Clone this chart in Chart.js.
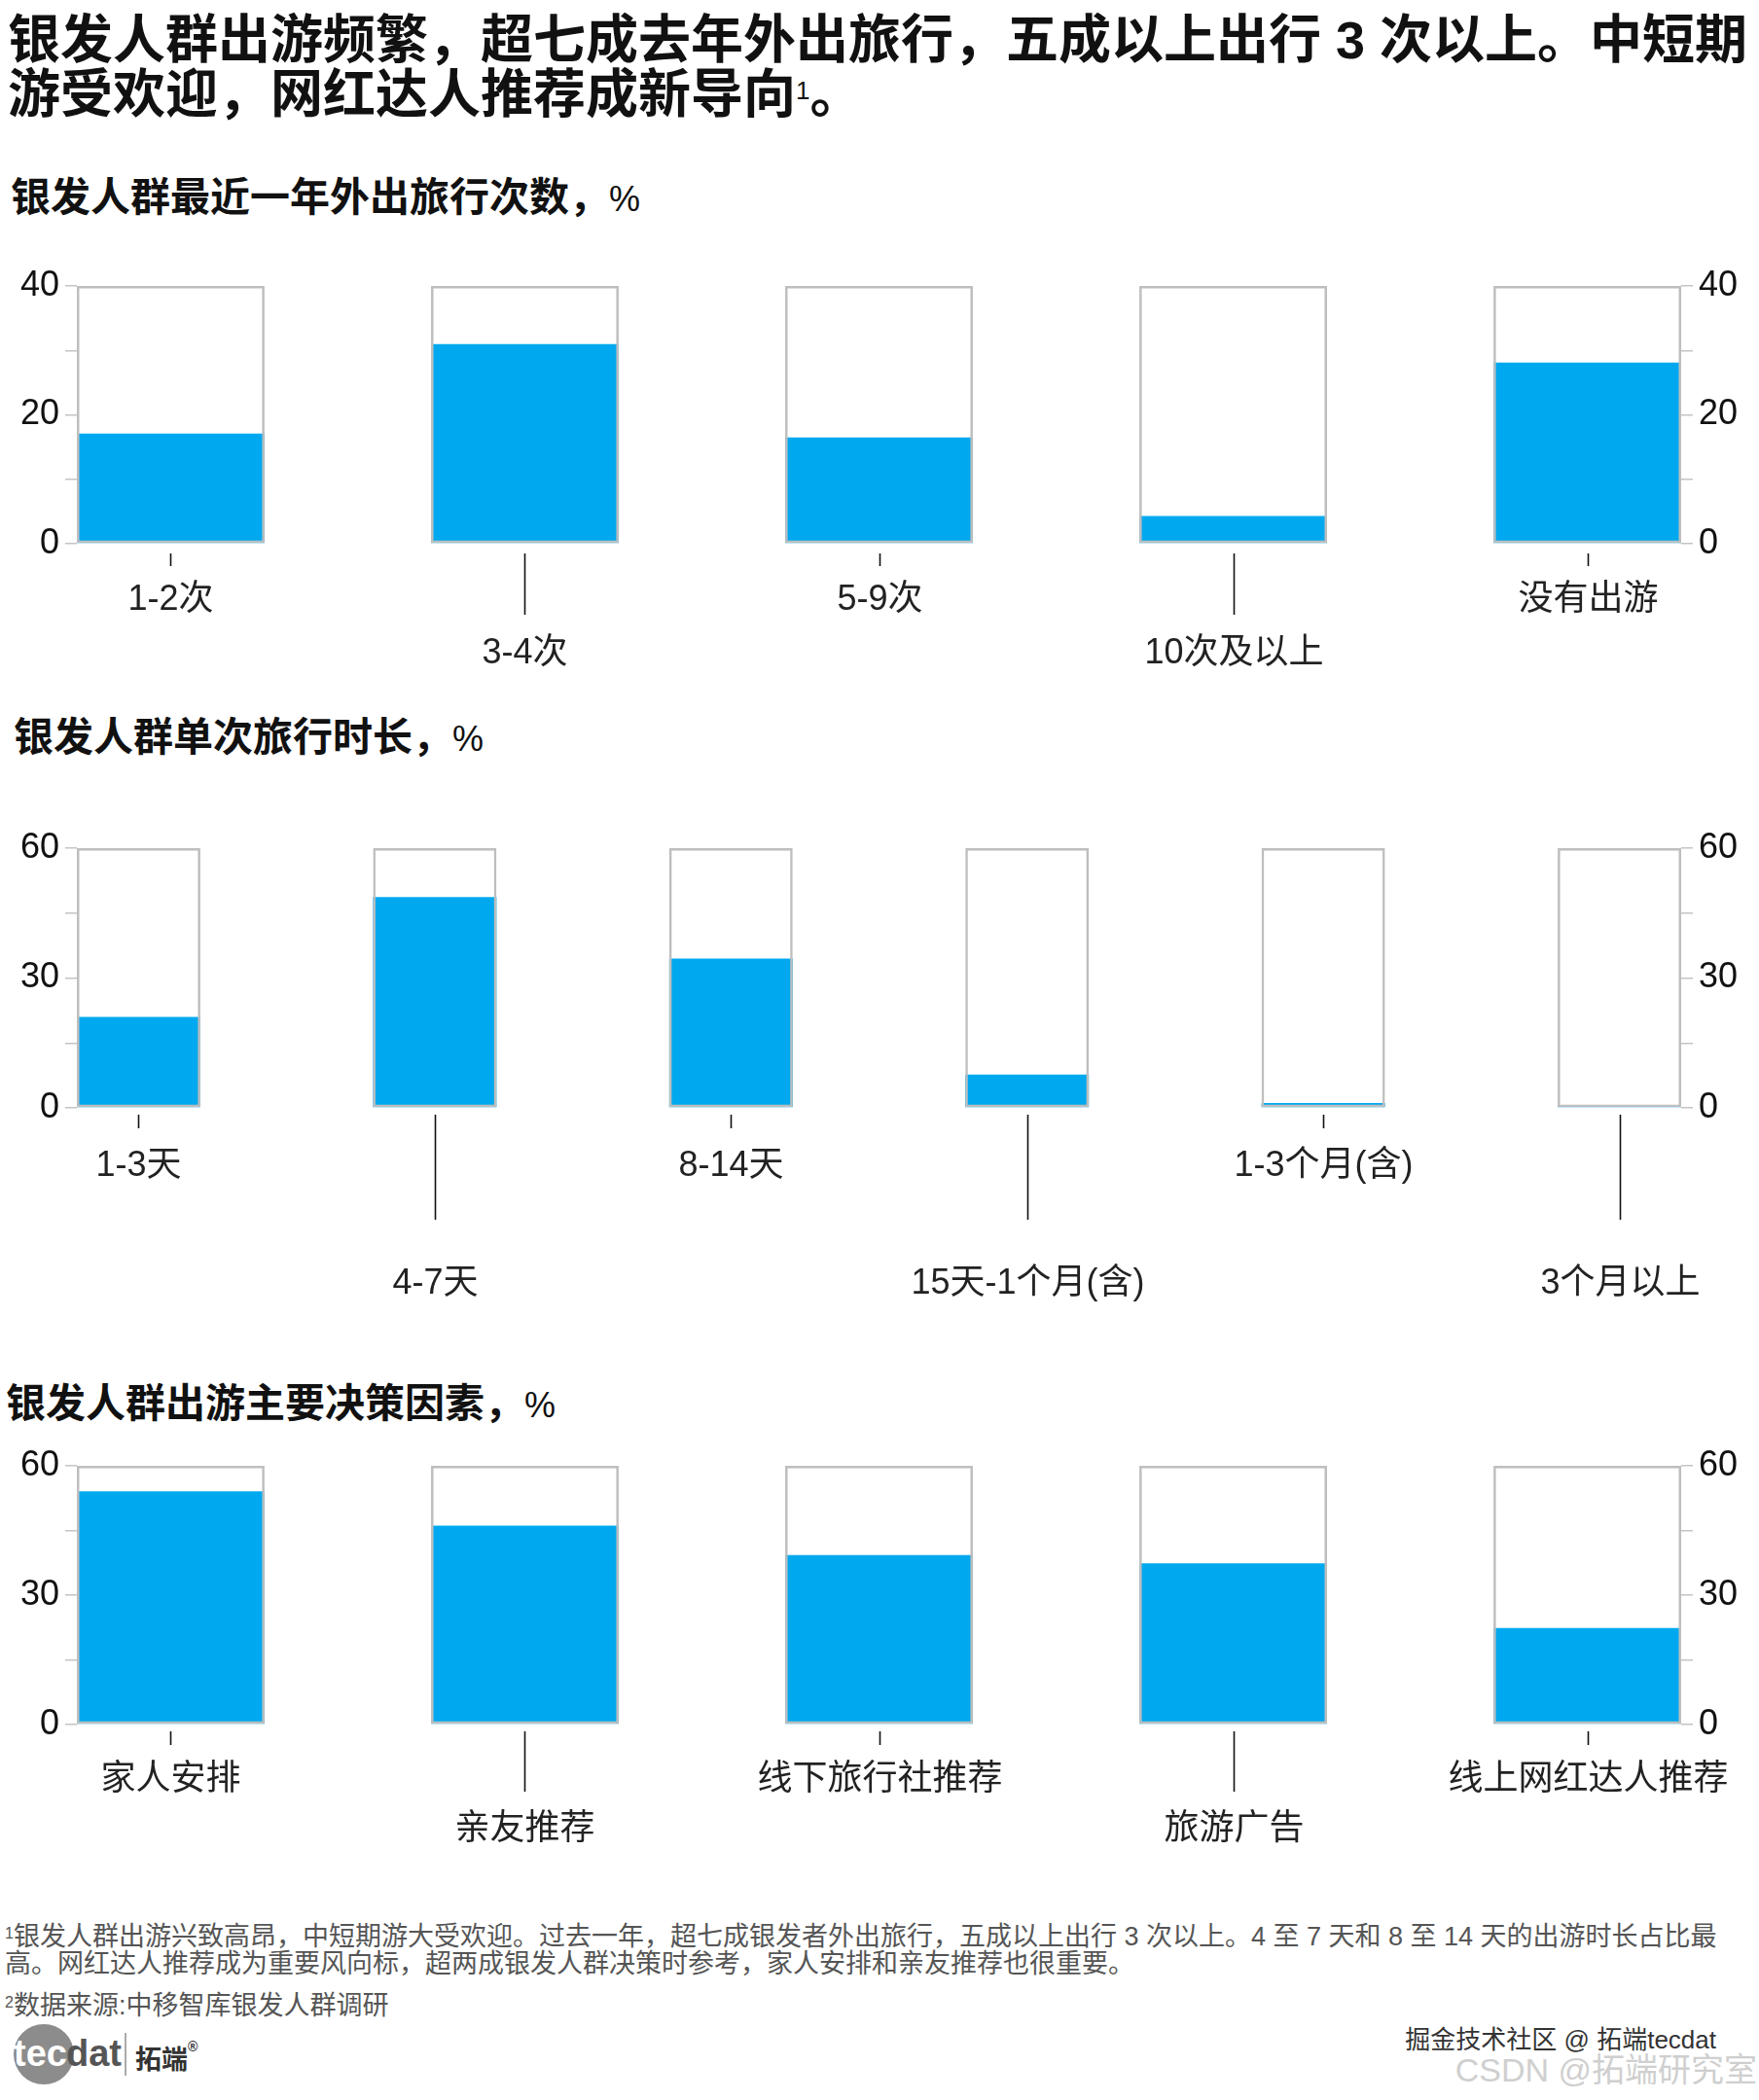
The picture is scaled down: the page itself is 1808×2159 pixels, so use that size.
<!DOCTYPE html>
<html lang="zh-CN">
<head>
<meta charset="utf-8">
<title>银发人群出游</title>
<script src="https://cdn.jsdelivr.net/npm/chart.js@4.4.1/dist/chart.umd.min.js"></script>
<style>
  html,body{margin:0;padding:0;background:#fff;}
  body{width:1808px;height:2159px;position:relative;overflow:hidden;
       font-family:"Liberation Sans",Arial,"Noto Sans CJK SC",sans-serif;color:#111;}
  .title{position:absolute;left:8px;top:13px;font-size:54px;font-weight:700;line-height:56px;white-space:nowrap;}
  .title sup{font-size:26px;font-weight:400;vertical-align:top;position:relative;top:-4px;}
  .sub{position:absolute;font-size:41px;font-weight:700;line-height:48px;white-space:nowrap;}
  .sub span{font-size:36px;font-weight:400;}
  .panel{position:absolute;left:0;width:1808px;}
  .note{position:absolute;left:5px;font-size:27px;color:#555;line-height:28px;white-space:nowrap;}
  .note sup{font-size:16px;vertical-align:top;position:relative;top:-3px;}
  .logo{position:absolute;left:6px;top:2080px;height:64px;width:220px;}
  .logo .dot{position:absolute;left:8px;top:1px;width:62px;height:62px;border-radius:50%;background:#8c8c8c;}
  .logo .t1{position:absolute;left:8px;top:10px;font-size:38px;color:#fff;font-weight:700;}
  .logo .t2{position:absolute;left:62px;top:10px;font-size:38px;color:#555;font-weight:700;}
  .logo .bar{position:absolute;left:122px;top:10px;width:2px;height:44px;background:#aaa;}
  .logo .t3{position:absolute;left:133px;top:16px;font-size:27px;color:#333;font-weight:700;}
  .logo .t3 sup{font-size:14px;vertical-align:top;}
  .wm1{position:absolute;right:44px;top:2076px;font-size:26px;color:#333;white-space:nowrap;
       text-shadow:0 0 2px #fff,0 0 2px #fff;}
  .wm2{position:absolute;right:2px;top:2101px;font-size:34px;color:#cfcfcf;white-space:nowrap;}
</style>
</head>
<body>
<div class="title">银发人群出游频繁，超七成去年外出旅行，五成以上出行 3 次以上。中短期<br>游受欢迎，网红达人推荐成新导向<sup>1</sup>。</div>

<div class="sub" style="left:11px;top:179px;">银发人群最近一年外出旅行次数，<span>%</span></div>
<div class="panel" style="top:264px;height:445px;"><canvas id="chartTrips"></canvas></div>

<div class="sub" style="left:14px;top:734px;">银发人群单次旅行时长，<span>%</span></div>
<div class="panel" style="top:842px;height:517px;"><canvas id="chartDuration"></canvas></div>

<div class="sub" style="left:6px;top:1419px;">银发人群出游主要决策因素，<span>%</span></div>
<div class="panel" style="top:1477px;height:446px;"><canvas id="chartFactors"></canvas></div>

<div class="note" style="top:1977px;"><sup>1</sup>银发人群出游兴致高昂，中短期游大受欢迎。过去一年，超七成银发者外出旅行，五成以上出行 3 次以上。4 至 7 天和 8 至 14 天的出游时长占比最<br>高。网红达人推荐成为重要风向标，超两成银发人群决策时参考，家人安排和亲友推荐也很重要。</div>
<div class="note" style="top:2048px;"><sup>2</sup>数据来源:中移智库银发人群调研</div>

<div class="logo">
  <div class="dot"></div><div class="t1">tec</div><div class="t2">dat</div>
  <div class="bar"></div><div class="t3">拓端<sup>®</sup></div>
</div>
<div class="wm1">掘金技术社区 @ 拓端tecdat</div>
<div class="wm2">CSDN @拓端研究室</div>

<script>
// 数据
const tripCats   = ['1-2次', '3-4次', '5-9次', '10次及以上', '没有出游'];
const tripVals   = [17.1, 31.0, 16.5, 4.3, 28.1];
const tripTicks  = [0, 20, 40];

const durCats    = ['1-3天', '4-7天', '8-14天', '15天-1个月(含)', '1-3个月(含)', '3个月以上'];
const durVals    = [21.0, 48.7, 34.5, 7.7, 1.1, 0.7];
const durTicks   = [0, 30, 60];

const factorCats  = ['家人安排', '亲友推荐', '线下旅行社推荐', '旅游广告', '线上网红达人推荐'];
const factorVals  = [54.1, 46.1, 39.3, 37.4, 22.4];
const factorTicks = [0, 30, 60];

const BLUE  = '#00A9EF';
const FRAME = '#BEBEBE';
const FONT  = "'Liberation Sans', Arial, 'Noto Sans CJK SC', sans-serif";
const LEFT_W = 79, RIGHT_W = 80;

// 错位的分类标签 + 引线
const staggerLabels = {
  id: 'staggerLabels',
  afterDraw(chart, args, o){
    const {ctx, chartArea} = chart;
    const xs = chart.scales.x;
    ctx.save();
    ctx.strokeStyle = '#111'; ctx.lineWidth = 1.6;
    ctx.fillStyle = '#222';
    ctx.font = `36px ${FONT}`;
    ctx.textAlign = 'center'; ctx.textBaseline = 'middle';
    o.labels.forEach((c, i) => {
      const x = Math.round(xs.getPixelForValue(i)) + 0.5;
      const low = i % 2 === 1;
      ctx.beginPath();
      ctx.moveTo(x, chartArea.bottom + o.gap);
      ctx.lineTo(x, chartArea.bottom + (low ? o.longEnd : o.shortEnd));
      ctx.stroke();
      ctx.fillText(c, x, chartArea.bottom + (low ? o.lowText : o.highText));
    });
    ctx.restore();
  }
};

function drawPanel(id, cats, vals, ticks, barFrac, stagger){
  const max  = ticks[ticks.length - 1];
  const step = (ticks[1] - ticks[0]) / 2;
  const yAxis = pos => ({
    position: pos, min: 0, max,
    border: {display: false},
    grid: {drawOnChartArea: false, drawTicks: true, tickLength: 12, color: '#c4c4c4', lineWidth: 1.5},
    ticks: {stepSize: step, padding: 6, color: '#111', font: {size: 36, family: FONT},
            callback: v => ticks.includes(v) ? v : ''},
    afterFit: s => { s.width = pos === 'left' ? LEFT_W : RIGHT_W; }
  });
  new Chart(document.getElementById(id), {
    type: 'bar',
    data: {datasets: [
      {data: cats.map((c, i) => ({x: i, y: max})), backgroundColor: 'rgba(0,0,0,0)',
       borderColor: FRAME, borderWidth: 2.5, borderSkipped: false, order: 0},
      {data: vals.map((v, i) => ({x: i, y: v})), backgroundColor: BLUE, borderWidth: 0, order: 1}
    ]},
    options: {
      responsive: true, maintainAspectRatio: false, animation: false,
      layout: {padding: {top: 30, bottom: stagger.pad}},
      datasets: {bar: {grouped: false, categoryPercentage: 1, barPercentage: barFrac}},
      scales: {
        x: {type: 'linear', display: false, offset: false, grid: {offset: false},
            min: -barFrac / 2, max: cats.length - 1 + barFrac / 2,
            afterBuildTicks: s => { s.ticks = cats.map((c, i) => ({value: i})); }},
        y: yAxis('left'),
        y2: yAxis('right')
      },
      plugins: {legend: {display: false}, tooltip: {enabled: false},
                staggerLabels: Object.assign({labels: cats}, stagger)}
    },
    plugins: [staggerLabels]
  });
}

drawPanel('chartTrips', tripCats, tripVals, tripTicks, 0.53,
  {pad: 150, gap: 10, shortEnd: 23, longEnd: 73, highText: 58, lowText: 113});
drawPanel('chartDuration', durCats, durVals, durTicks, 0.417,
  {pad: 220, gap: 7, shortEnd: 21, longEnd: 115, highText: 60, lowText: 181});
drawPanel('chartFactors', factorCats, factorVals, factorTicks, 0.53,
  {pad: 150, gap: 7, shortEnd: 21, longEnd: 69, highText: 57, lowText: 108});
</script>
</body>
</html>
